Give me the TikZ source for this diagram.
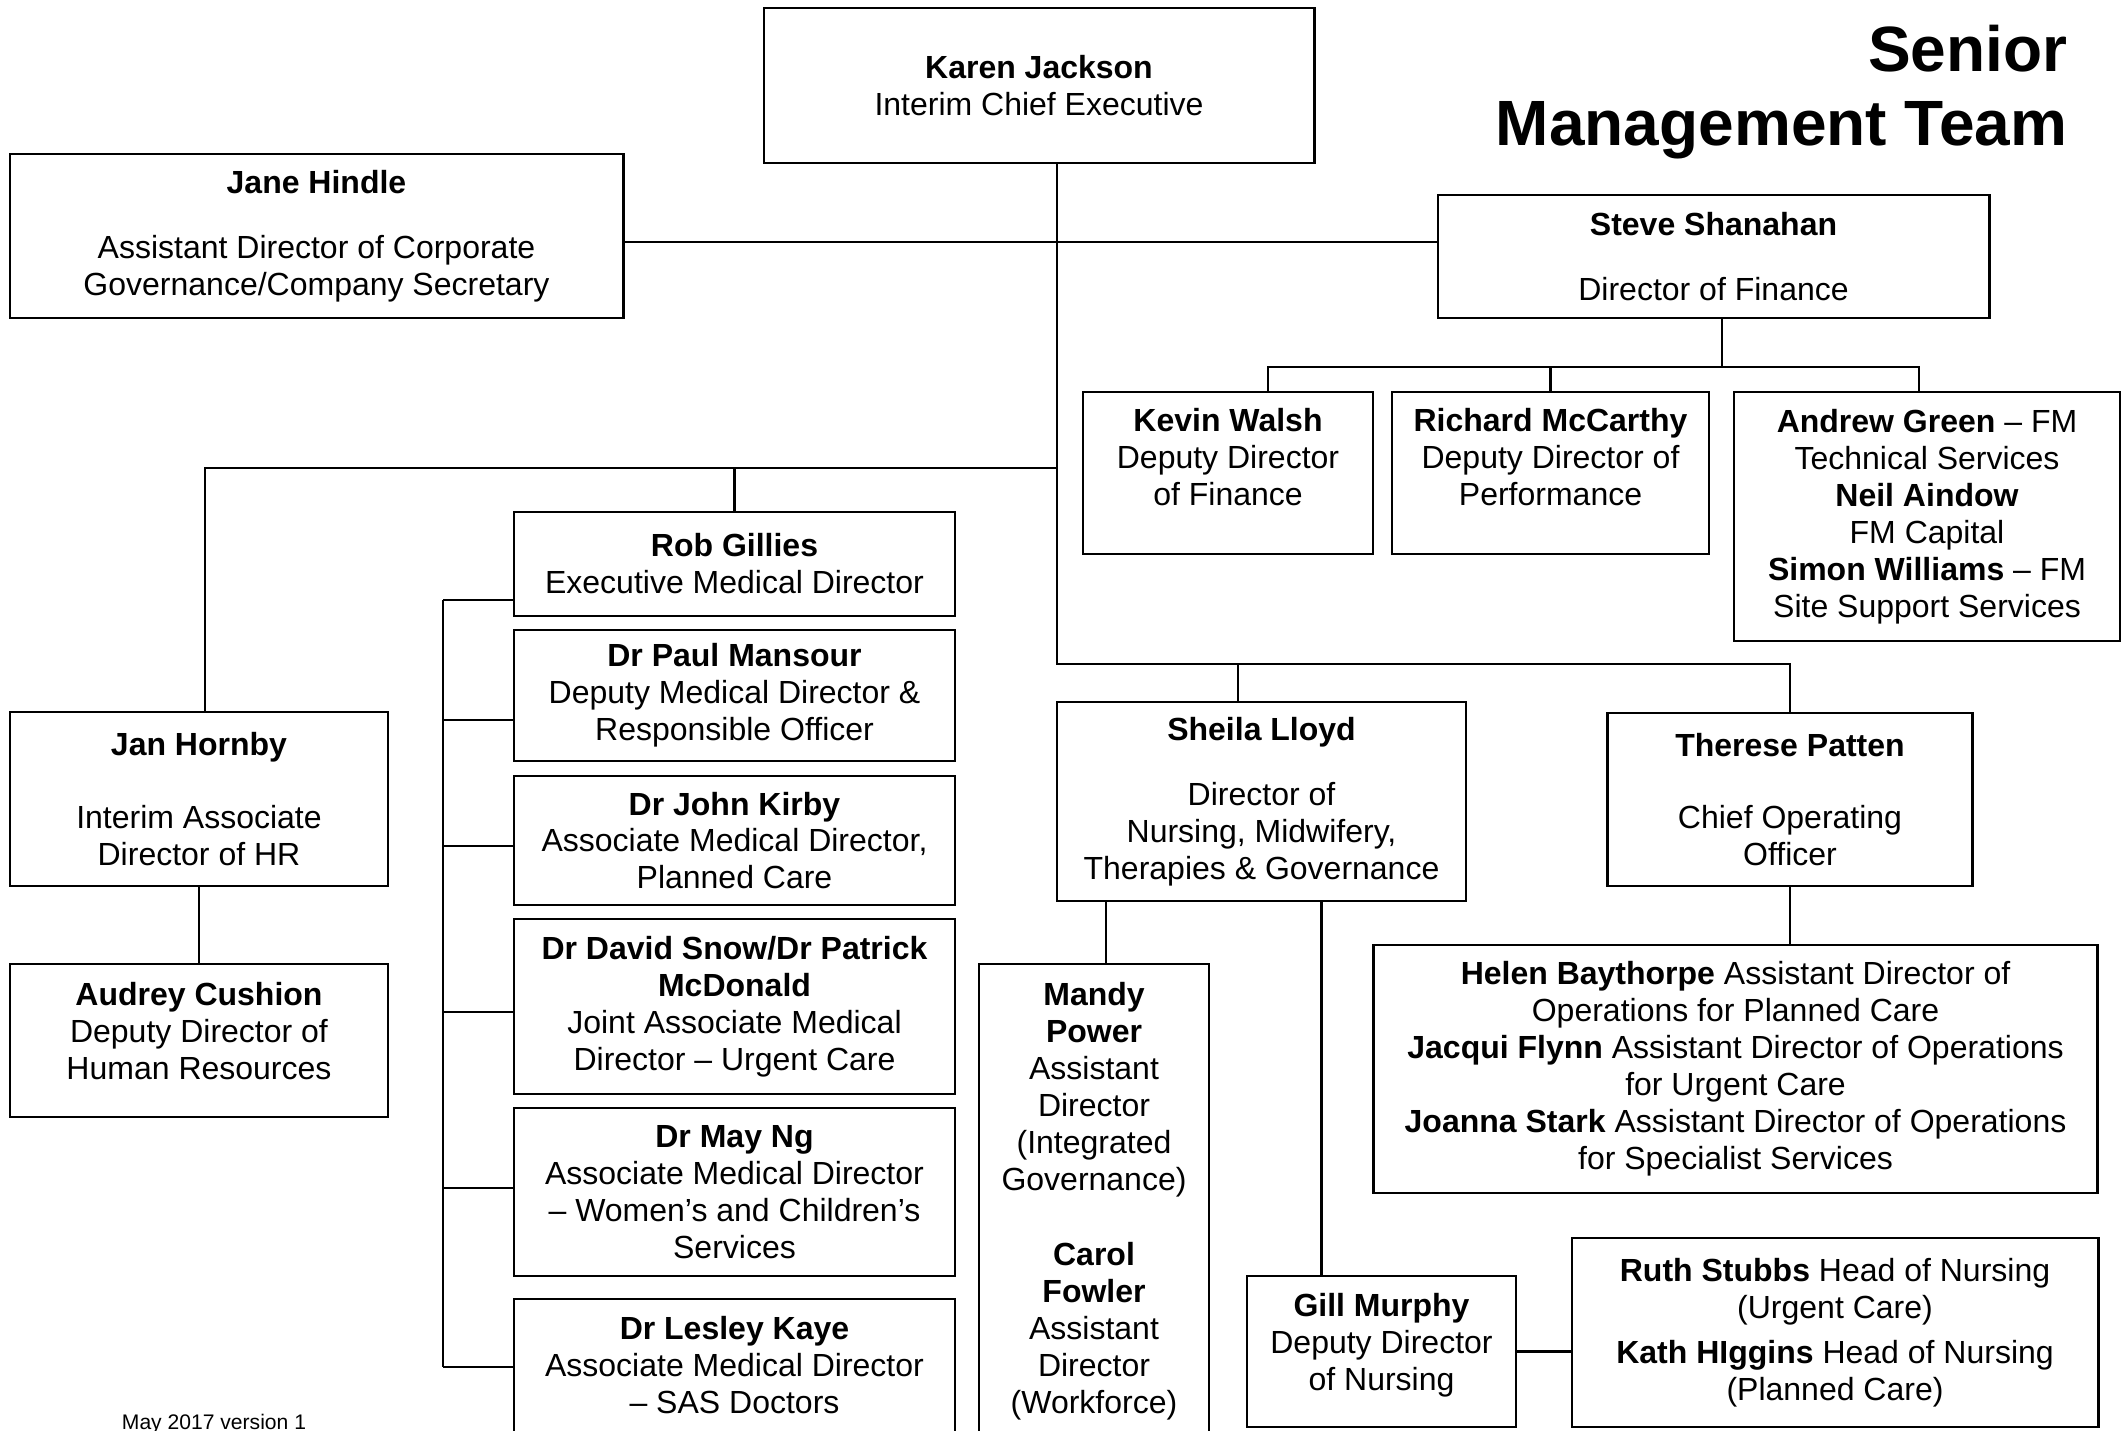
\documentclass[tikz,border=0pt]{standalone}
\usepackage{fontspec}
\setmainfont{Liberation Sans}

% extra depth on a last line, to lift the text in its box
\newcommand\pushup[1]{\rule[-#1]{0pt}{#1}}

\begin{document}
\begin{tikzpicture}[
  x=0.01cm, y=-0.01cm,
  box/.style={draw,line width=0.75pt,align=center,inner sep=2pt,font=\fontsize{9.1}{10.5}\selectfont},
  boxsize/.style 2 args={minimum width=#1,minimum height=#2},
  link/.style={line width=0.6pt}
]
\path[use as bounding box,fill=white] (0,0) rectangle (2125,1430);
\clip (0,0) rectangle (2125,1430);

\node[anchor=north east,align=right,inner sep=0pt,font=\fontsize{18.2}{21.3}\selectfont\bfseries] (title) at (2068,24) {Senior\\Management Team};

\node[box,boxsize={5.50cm}{1.55cm}] (karen) at (1039,85.5) {\textbf{Karen Jackson}\\Interim Chief Executive};
\node[box,boxsize={6.13cm}{1.64cm}] (jane) at (316.5,236) {\textbf{Jane Hindle}\\[0.28cm]Assistant Director of Corporate\\Governance/Company Secretary};
\node[box,boxsize={5.51cm}{1.23cm}] (steve) at (1713.5,256.5) {\textbf{Steve Shanahan}\\[0.28cm]Director of Finance};

% finance
\node[box,boxsize={2.90cm}{1.62cm}] (kevin) at (1228,473) {\textbf{Kevin Walsh}\\Deputy Director\\of Finance\pushup{0.32cm}};
\node[box,boxsize={3.17cm}{1.62cm}] (richard) at (1550.5,473) {\textbf{Richard McCarthy}\\Deputy Director of\\Performance\pushup{0.32cm}};
\node[box,boxsize={3.86cm}{2.49cm}] (andrew) at (1927,516.5) {\textbf{Andrew Green} – FM\\Technical Services\\\textbf{Neil Aindow}\\FM Capital\\\textbf{Simon Williams} – FM\\Site Support Services};

% medical
\node[box,boxsize={4.41cm}{1.04cm}] (rob) at (734.5,564) {\textbf{Rob Gillies}\\Executive Medical Director};
\node[box,boxsize={4.41cm}{1.31cm}] (paul) at (734.5,695.5) {\textbf{Dr Paul Mansour}\\Deputy Medical Director \&\\Responsible Officer};
\node[box,boxsize={4.41cm}{1.29cm}] (john) at (734.5,840.5) {\textbf{Dr John Kirby}\\Associate Medical Director,\\Planned Care};
\node[box,boxsize={4.41cm}{1.75cm}] (david) at (734.5,1006.5) {\textbf{Dr David Snow/Dr Patrick}\\\textbf{McDonald}\\Joint Associate Medical\\Director – Urgent Care};
\node[box,boxsize={4.41cm}{1.68cm}] (may) at (734.5,1192) {\textbf{Dr May Ng}\\Associate Medical Director\\– Women’s and Children’s\\Services};
\node[box,boxsize={4.41cm}{1.61cm}] (lesley) at (734.5,1379.5) {\textbf{Dr Lesley Kaye}\\Associate Medical Director\\– SAS Doctors\pushup{0.29cm}};

% HR
\node[box,boxsize={3.78cm}{1.74cm}] (jan) at (199,799) {\textbf{Jan Hornby}\\[0.36cm]Interim Associate\\Director of HR};
\node[box,boxsize={3.78cm}{1.53cm}] (audrey) at (199,1040.5) {\textbf{Audrey Cushion}\\Deputy Director of\\Human Resources\pushup{0.19cm}};

% nursing and operations
\node[box,boxsize={4.09cm}{1.99cm}] (sheila) at (1261.5,801.5) {\textbf{Sheila Lloyd}\\[0.28cm]Director of\\Nursing, Midwifery,\\Therapies \& Governance};
\node[box,boxsize={3.65cm}{1.73cm}] (therese) at (1790,799.5) {\textbf{Therese Patten}\\[0.36cm]Chief Operating\\Officer};
\node[box,boxsize={7.23cm}{2.48cm}] (ops) at (1735.5,1069) {\textbf{Helen Baythorpe} Assistant Director of\\Operations for Planned Care\\\textbf{Jacqui Flynn} Assistant Director of Operations\\for Urgent Care\\\textbf{Joanna Stark} Assistant Director of Operations\\for Specialist Services};
\node[box,boxsize={2.30cm}{4.96cm}] (mandy) at (1094,1212) {\textbf{Mandy}\\\textbf{Power}\\Assistant\\Director\\(Integrated\\Governance)\\[0.38cm]\textbf{Carol}\\\textbf{Fowler}\\Assistant\\Director\\(Workforce)\pushup{0.28cm}};
\node[box,boxsize={2.69cm}{1.51cm}] (gill) at (1381.5,1351.5) {\textbf{Gill Murphy}\\Deputy Director\\of Nursing\pushup{0.19cm}};
\node[box,boxsize={5.26cm}{1.89cm}] (ruth) at (1835,1332.5) {\textbf{Ruth Stubbs} Head of Nursing\\(Urgent Care)\\[0.08cm]\textbf{Kath HIggins} Head of Nursing\\(Planned Care)};

\node[anchor=base,inner sep=0pt,font=\fontsize{6}{7}\selectfont] (version) at (214,1429) {May 2017 version 1};

% connectors
\coordinate (trunk) at (1057,664);
\coordinate (govbar) at (1057,242);
\coordinate (medbar) at (1057,468);
\coordinate (finbar) at (1268,367);
\coordinate (nurtick) at (1238,664);
\coordinate (spine) at (443,600);
\coordinate (jantop) at ([xshift=0.06cm]jan.north);
\coordinate (stevebot) at ([xshift=0.085cm]steve.south);
\coordinate (andrewtop) at ([xshift=-0.08cm]andrew.north);
\coordinate (mandytop) at ([xshift=0.12cm]mandy.north);
\coordinate (gilltop) at ([xshift=-0.6cm]gill.north);

\draw[link] (karen.south -| trunk) -- (trunk) -- (trunk -| therese.north) -- (therese.north);
\draw[link] (jane.east |- govbar) -- (steve.west |- govbar);
\draw[link] (medbar) -| (jantop);
\draw[link] (rob.north) -- (rob.north |- medbar);
\draw[link] (stevebot) -- (stevebot |- finbar);
\draw[link] (finbar |- kevin.north) -- (finbar) -| (andrewtop);
\draw[link] (richard.north) -- (richard.north |- finbar);
\draw[link] (nurtick) -- (nurtick |- sheila.north);
\draw[link] (therese.south) -- (therese.south |- ops.north);
\draw[link] (mandytop) -- (mandytop |- sheila.south);
\draw[link] (gilltop) -- (gilltop |- sheila.south);
\draw[link] (gill.east) -- (gill.east -| ruth.west);
\draw[link] (jan.south) -- (audrey.north);
\draw[link] (spine) -- (spine |- 0,1367);
\foreach \who/\y in {rob/600,paul/720,john/846,david/1012,may/1188,lesley/1367}
  \draw[link] (spine |- 0,\y) -- (\who.west |- 0,\y);
\end{tikzpicture}
\end{document}
